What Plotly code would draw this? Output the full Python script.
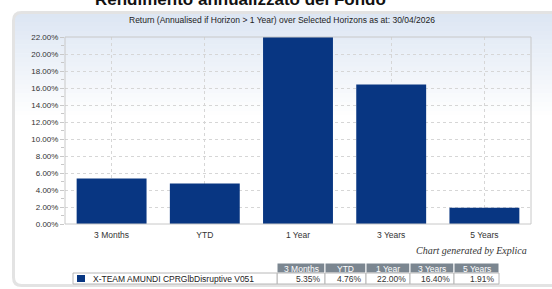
import plotly.graph_objects as go

categories = ["3 Months", "YTD", "1 Year", "3 Years", "5 Years"]
values = [5.35, 4.76, 22.00, 16.40, 1.91]
series_name = "X-TEAM AMUNDI CPRGlbDisruptive V051"
y_ticks = list(range(0, 23, 2))
y_tick_labels = [f"{v:.2f}%" for v in y_ticks]
page_title = "Rendimento annualizzato del Fondo"
chart_title = "Return (Annualised if Horizon > 1 Year) over Selected Horizons as at: 30/04/2026"
credit = "Chart generated by Explica"

W, H = 552, 289
L, R, T, B = 65, 531, 37, 224
BAR = "#083682"
FONT = "Liberation Sans, Arial, sans-serif"


def X(px):
    return (px - L) / (R - L)


def Y(py):
    return (B - py) / (B - T)


fig = go.Figure()
fig.add_trace(go.Bar(x=categories, y=values, marker=dict(color=BAR, line=dict(width=0)),
                     width=0.75, showlegend=False, hoverinfo="skip"))

shapes = []
annotations = []

# gradient panel background
top_c = (221, 230, 243)
n = 24
y0p, y1p = 13, 120
for i in range(n):
    t = i / (n - 1)
    c = tuple(int(round(top_c[k] + (255 - top_c[k]) * t)) for k in range(3))
    ya = y0p + (y1p - y0p) * i / n
    yb = y0p + (y1p - y0p) * (i + 1) / n + 0.6
    shapes.append(dict(type="rect", xref="paper", yref="paper", layer="below",
                       x0=X(15), x1=X(560), y0=Y(ya), y1=Y(yb),
                       fillcolor=f"rgb{c}", line=dict(width=0)))

# rounded panel outline
rx, ry = 8, 8
x0, x1, ya, yb = 13.5, 570, 12.5, 285.5
path = (f"M {X(x0+rx)},{Y(ya)} L {X(x1)},{Y(ya)} L {X(x1)},{Y(yb)} L {X(x0+rx)},{Y(yb)} "
        f"Q {X(x0)},{Y(yb)} {X(x0)},{Y(yb-ry)} L {X(x0)},{Y(ya+ry)} "
        f"Q {X(x0)},{Y(ya)} {X(x0+rx)},{Y(ya)} Z")
shapes.append(dict(type="path", xref="paper", yref="paper", path=path, layer="below",
                   line=dict(color="#e3e3e3", width=3)))

# plot frame
shapes.append(dict(type="rect", xref="paper", yref="paper", x0=0, x1=1, y0=0, y1=1,
                   line=dict(color="#c8c8c8", width=1), layer="above"))

# titles
annotations.append(dict(text=f"<b>{page_title}</b>", x=X(240), y=Y(-1), xref="paper", yref="paper",
                        showarrow=False, xanchor="center", yanchor="middle",
                        font=dict(family=FONT, size=17, color="#111")))
annotations.append(dict(text=chart_title, x=X(282), y=Y(20), xref="paper", yref="paper",
                        showarrow=False, xanchor="center", yanchor="middle",
                        font=dict(family=FONT, size=8.5, color="#222")))
annotations.append(dict(text=f"<i>{credit}</i>", x=X(529), y=Y(250), xref="paper", yref="paper",
                        showarrow=False, xanchor="right", yanchor="middle",
                        font=dict(family="Liberation Serif, Times New Roman, serif", size=10, color="#333")))

# table
col_edges = [277, 325, 366, 410, 454, 499]
hy0, hy1, dy1 = 263, 273, 284
leg_x0 = 73
for i, cat in enumerate(categories):
    xa, xb = col_edges[i], col_edges[i + 1]
    shapes.append(dict(type="rect", xref="paper", yref="paper", x0=X(xa), x1=X(xb),
                       y0=Y(hy1), y1=Y(hy0), fillcolor="#7b8690", line=dict(color="#ffffff", width=1)))
    shapes.append(dict(type="rect", xref="paper", yref="paper", x0=X(xa), x1=X(xb),
                       y0=Y(dy1), y1=Y(hy1), fillcolor="#ffffff", line=dict(color="#b8b8b8", width=1)))
    annotations.append(dict(text=cat, x=X((xa + xb) / 2), y=Y((hy0 + hy1) / 2 + 0.5), xref="paper", yref="paper",
                            showarrow=False, xanchor="center", yanchor="middle",
                            font=dict(family=FONT, size=8.5, color="#ffffff")))
    annotations.append(dict(text=f"{values[i]:.2f}%", x=X(xb - 2), y=Y((hy1 + dy1) / 2 + 0.5), xref="paper", yref="paper",
                            showarrow=False, xanchor="right", yanchor="middle",
                            font=dict(family=FONT, size=8.5, color="#333")))
shapes.append(dict(type="rect", xref="paper", yref="paper", x0=X(leg_x0), x1=X(col_edges[0]),
                   y0=Y(dy1), y1=Y(hy1), fillcolor="#ffffff", line=dict(color="#b8b8b8", width=1)))
shapes.append(dict(type="rect", xref="paper", yref="paper", x0=X(77), x1=X(85),
                   y0=Y(282), y1=Y(275), fillcolor=BAR, line=dict(width=0)))
annotations.append(dict(text=series_name, x=X(91), y=Y(279), xref="paper", yref="paper",
                        showarrow=False, xanchor="left", yanchor="middle",
                        font=dict(family=FONT, size=8.5, color="#222")))

fig.update_layout(
    width=W, height=H,
    margin=dict(l=L, r=W - R, t=T, b=H - B, pad=0),
    paper_bgcolor="#ffffff", plot_bgcolor="rgba(0,0,0,0)",
    bargap=0.25, shapes=shapes, annotations=annotations,
    font=dict(family=FONT, size=8.5, color="#333"),
)
fig.update_xaxes(showgrid=True, gridcolor="#d6d6d6", griddash="dot", gridwidth=1,
                 showline=False, ticks="", tickfont=dict(size=8.5, color="#333"),
                 ticklabelstandoff=4, range=[-0.5, 4.5], fixedrange=True)
fig.update_yaxes(range=[0, 22], tickvals=y_ticks, ticktext=y_tick_labels,
                 showgrid=True, gridcolor="#d6d6d6", griddash="dot", gridwidth=1,
                 zeroline=False, showline=False, ticks="outside", ticklen=4,
                 tickcolor="#c8c8c8", tickfont=dict(size=8, color="#333"),
                 minor=dict(dtick=1, ticks="outside", ticklen=3, tickcolor="#c8c8c8", showgrid=False),
                 fixedrange=True)

fig.write_html("out.html", config={"displayModeBar": False},
               post_script="document.body.style.margin='0';document.body.style.padding='0';document.body.style.overflow='hidden';")
